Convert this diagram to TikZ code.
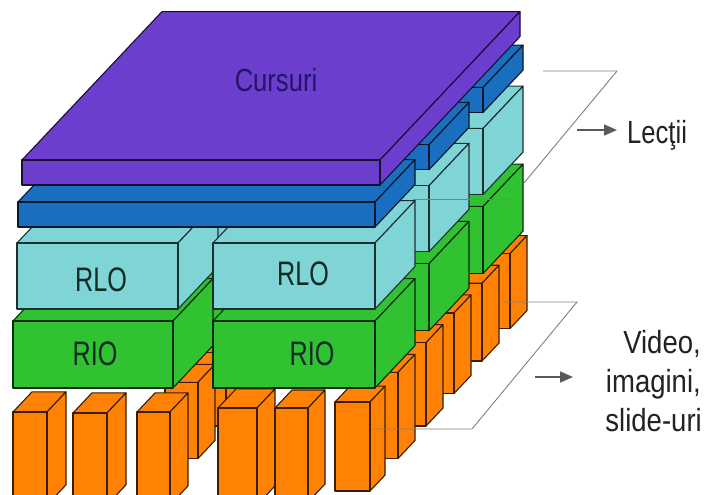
\documentclass[tikz,border=0pt]{standalone}
\usepackage{fontspec}
\setmainfont{Liberation Sans}
\newfontfamily\condfont[FakeStretch=0.8]{Liberation Sans}
\newfontfamily\widecondfont[FakeStretch=0.86]{Liberation Sans}
\newfontfamily\boxfont[FakeStretch=0.74]{Liberation Sans}
\usetikzlibrary{arrows.meta}
\definecolor{cpurple}{HTML}{6C3ECD}
\definecolor{cblue}{HTML}{1A6EBF}
\definecolor{ccyan}{HTML}{7FD4D6}
\definecolor{cgreen}{HTML}{30C230}
\definecolor{corange}{HTML}{FF8205}
\definecolor{curtext}{HTML}{24146A}
\definecolor{boxtext}{HTML}{102A24}
\definecolor{labtext}{HTML}{222222}
% box: x1 x2 ytop ybottom z depth colour
\newcommand{\mybox}[7]{%
  \pgfmathsetmacro{\mbAx}{#1+#5}\pgfmathsetmacro{\mbBx}{#2+#5}%
  \pgfmathsetmacro{\mbTy}{#3-1.06*(#5)}\pgfmathsetmacro{\mbBy}{#4-1.06*(#5)}%
  \pgfmathsetmacro{\mbDx}{#6}\pgfmathsetmacro{\mbDy}{-1.06*(#6)}%
  \filldraw[face=#7] (\mbAx,\mbTy) -- ++(\mbDx,\mbDy) -- ({\mbBx+\mbDx},{\mbTy+\mbDy}) -- (\mbBx,\mbTy) -- cycle;
  \filldraw[face=#7] (\mbBx,\mbTy) -- ++(\mbDx,\mbDy) -- ({\mbBx+\mbDx},{\mbBy+\mbDy}) -- (\mbBx,\mbBy) -- cycle;
  \filldraw[face=#7] (\mbAx,\mbTy) rectangle (\mbBx,\mbBy);
}
\begin{document}
\begin{tikzpicture}[x=1pt,y=-1pt,
  face/.style={fill=#1, draw=#1!22!black, line width=1.1pt, line join=round},
  plane/.style={draw=black!50, line width=0.9pt},
  garrow/.style={draw=black!65, line width=1.5pt, -{Triangle[length=13pt,width=11pt]}},
  boxlbl/.style={font=\boxfont\fontsize{34}{40}\selectfont, text=boxtext, inner sep=0pt},
  sidelbl/.style={font=\widecondfont\fontsize{32}{39}\selectfont, text=labtext, inner sep=0pt}]
\useasboundingbox (0,0) rectangle (707,495);
\fill[white] (0,0) rectangle (707,495);

% ---- orange columns (back to front) ----
\foreach \k in {5,4,3,2,1}{
  \pgfmathsetmacro{\zz}{28*\k}
  \pgfmathsetmacro{\yb}{491-2.82*\k}
  \mybox{137}{170}{412}{\yb}{\zz}{17}{corange}
  \mybox{335}{370}{402}{\yb}{\zz}{17}{corange}
}
\mybox{13}{47}{412}{505}{0}{19}{corange}
\mybox{73}{107}{413}{505}{0}{19}{corange}
\mybox{137}{170}{412}{505}{0}{18}{corange}
\mybox{218}{257}{408}{505}{0}{18}{corange}
\mybox{275}{308}{408}{502}{0}{17}{corange}
\mybox{335}{370}{402}{491}{0}{15}{corange}

% ---- green blocks (RIO) ----
\foreach \z in {108,54,0}{
  \mybox{13}{173}{321}{388}{\z}{40}{cgreen}
  \mybox{213}{375}{321}{388}{\z}{40}{cgreen}
}
% ---- cyan blocks (RLO) ----
\foreach \z in {108,54,0}{
  \mybox{17}{178}{243}{309}{\z}{40}{ccyan}
  \mybox{213}{375}{243}{309}{\z}{40}{ccyan}
}
% ---- blue bars ----
\foreach \z in {108,54,0}{
  \mybox{18}{375}{202}{227}{\z}{40}{cblue}
}
% ---- purple plate ----
\mybox{22}{380}{160}{185}{0}{140}{cpurple}

% ---- texts on the structure ----
\node[font=\condfont\fontsize{32}{38}\selectfont, text=curtext, inner sep=0pt] (cur) at (276,80) {Cursuri};
\node[boxlbl] (rlo1) at (101,280) {RLO};
\node[boxlbl] (rlo2) at (303,274) {RLO};
\node[boxlbl] (rio1) at (95,354) {RIO};
\node[boxlbl] (rio2) at (312,354) {RIO};

% ---- upper plane and label ----
\coordinate (u1) at (543,71);
\coordinate (u2) at (617,71);
\coordinate (u3) at (524,183);
\coordinate (u4) at (511,199);
\coordinate (u5) at (413,199);
\draw[plane] (u1) -- (u2) -- (u3);
\draw[plane] (u4) -- (u5);
\node[font=\condfont\fontsize{32}{39}\selectfont, text=labtext, inner sep=0pt, anchor=base west] (lec) at (627,143) {Lecţii};
\coordinate (ua) at (577,130);
\coordinate (ub) at (617,130);
\draw[garrow] (ua) -- (ub);

% ---- lower plane and label ----
\coordinate (l1) at (503,302);
\coordinate (l2) at (577,302);
\coordinate (l3) at (472,429);
\coordinate (l4) at (373,429);
\draw[plane] (l1) -- (l2) -- (l3) -- (l4);
\node[sidelbl, anchor=base east] (v1) at (701,353) {Video,};
\node[sidelbl, anchor=base east] (v2) at (701,392) {imagini,};
\node[sidelbl, anchor=base east] (v3) at (702,431) {slide-uri};
\coordinate (la) at (535,377);
\coordinate (lb) at (573,377);
\draw[garrow] (la) -- (lb);
\end{tikzpicture}
\end{document}
